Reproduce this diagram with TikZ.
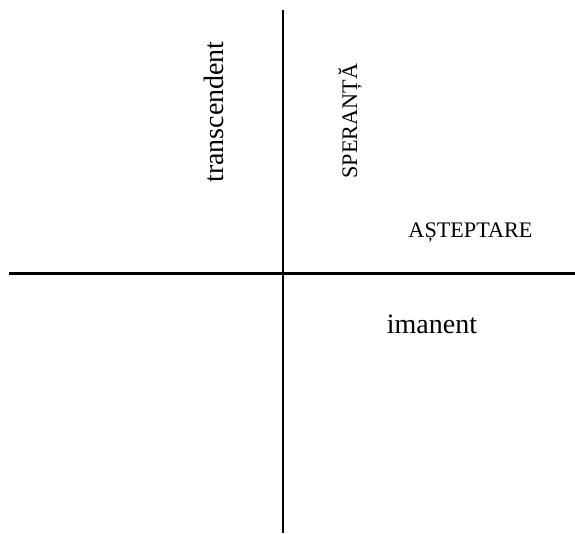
\documentclass[tikz,border=0pt]{standalone}
\usepackage{fontspec}
\setmainfont{Liberation Serif}
\begin{document}
\begin{tikzpicture}[x=1pt,y=-1pt,
  axis/.style={line width=2.2pt,black},
  bigtext/.style={font=\fontsize{28}{30}\selectfont,inner sep=0pt,anchor=base},
  captext/.style={font=\fontsize{22.2}{24}\selectfont,inner sep=0pt,anchor=base}]
\useasboundingbox (0,0) rectangle (575,533);
\coordinate (vtop) at (283,10);
\coordinate (vbot) at (283,533);
\coordinate (hleft) at (9,273.5);
\coordinate (hright) at (575,273.5);
\draw[axis] (vtop) -- (vbot);
\draw[axis] (hleft) -- (hright);
\node[bigtext,rotate=90] (trans) at (223,112) {transcendent};
\node[captext,rotate=90] (sper) at (357,121) {SPERANȚĂ};
\node[captext] (astept) at (470.5,237) {AȘTEPTARE};
\node[bigtext] (iman) at (432,333) {imanent};
\end{tikzpicture}
\end{document}
